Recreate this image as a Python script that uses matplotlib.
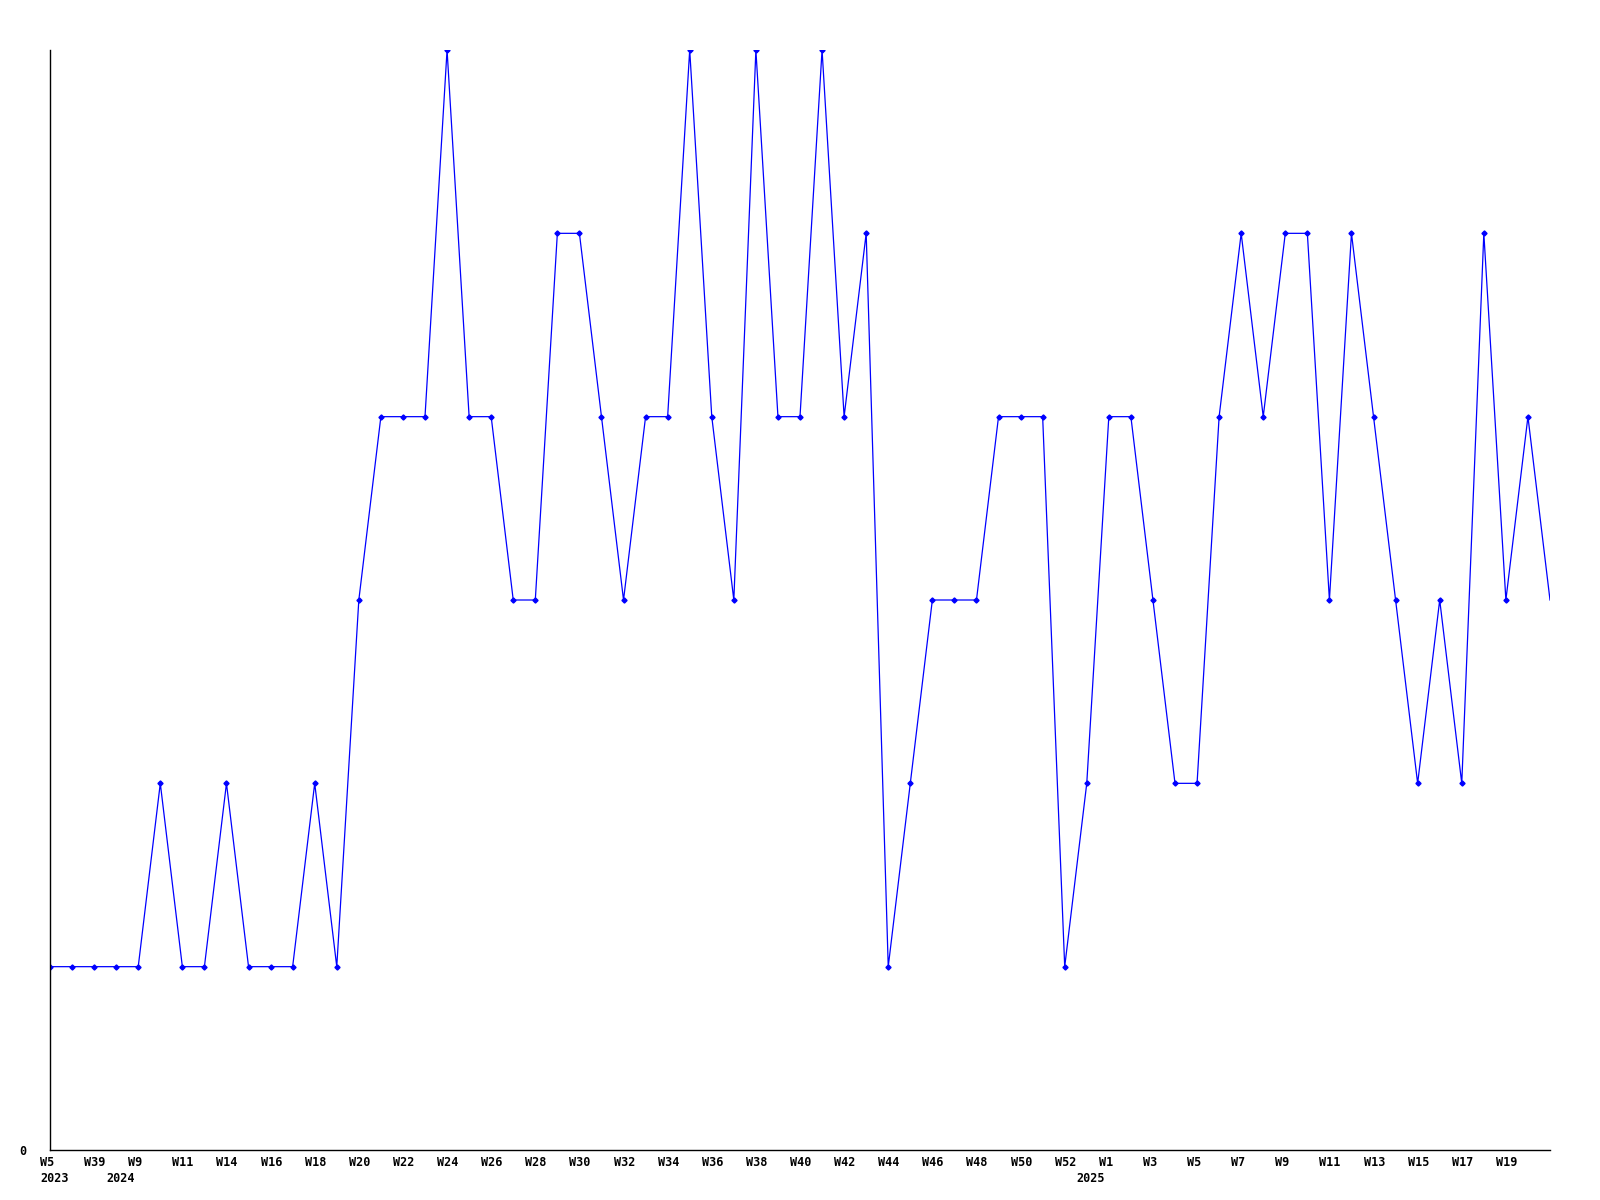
import matplotlib
matplotlib.use("Agg")
import matplotlib.pyplot as plt
import matplotlib.transforms as mtransforms

values = [1, 1, 1, 1, 1, 2, 1, 1, 2, 1, 1, 1, 2, 1, 3, 4, 4, 4, 6, 4,
          4, 3, 3, 5, 5, 4, 3, 4, 4, 6, 4, 3, 6, 4, 4, 6, 4, 5, 1, 2,
          3, 3, 3, 4, 4, 4, 1, 2, 4, 4, 3, 2, 2, 4, 5, 4, 5, 5, 3, 5,
          4, 3, 2, 3, 2, 5, 3, 4, 3]

week_labels = ["W5", "W39", "W9", "W11", "W14", "W16", "W18", "W20", "W22", "W24",
               "W26", "W28", "W30", "W32", "W34", "W36", "W38", "W40", "W42", "W44",
               "W46", "W48", "W50", "W52", "W1", "W3", "W5", "W7", "W9", "W11",
               "W13", "W15", "W17", "W19"]
week_label_pos = list(range(0, 68, 2))

year_labels = ["2023", "2024", "2025"]
year_label_pos = [0, 3, 47]

y_max = 6

font = dict(family="DejaVu Sans Mono", weight="bold", size=8.5)

fig = plt.figure(figsize=(16, 12), dpi=100)
ax = fig.add_axes([50 / 1600, 50 / 1200, 1500 / 1600, 1100 / 1200])

x = list(range(len(values)))
ax.plot(x, values, color="#0000FF", linewidth=0.9,
        marker="D", markersize=2.6, markevery=list(range(len(values) - 1)),
        markerfacecolor="#0000FF", markeredgecolor="#0000FF")

ax.set_xlim(0, len(values) - 1)
ax.set_ylim(0, y_max)

for s in ["top", "right"]:
    ax.spines[s].set_visible(False)
for s in ["left", "bottom"]:
    ax.spines[s].set_color("black")
    ax.spines[s].set_linewidth(1.0)

ax.set_yticks([0])
ax.set_yticklabels(["0"], fontdict=font)
ax.tick_params(axis="y", length=0, pad=17)

ax.set_xticks(week_label_pos)
ax.set_xticklabels(week_labels, fontdict=font, ha="left")
ax.tick_params(axis="x", length=0, pad=4.5)
shift = mtransforms.ScaledTranslation(-10 / 100, 0, fig.dpi_scale_trans)
for lbl in ax.get_xticklabels():
    lbl.set_transform(lbl.get_transform() + shift)

trans = mtransforms.blended_transform_factory(ax.transData, ax.transAxes)
offset = mtransforms.ScaledTranslation(-10 / 100, -28 / 100, fig.dpi_scale_trans)
for lbl, pos in zip(year_labels, year_label_pos):
    ax.text(pos, 0, lbl, transform=trans + offset, ha="left", va="center", **font)

fig.savefig("out.png", dpi=100, facecolor="white")
